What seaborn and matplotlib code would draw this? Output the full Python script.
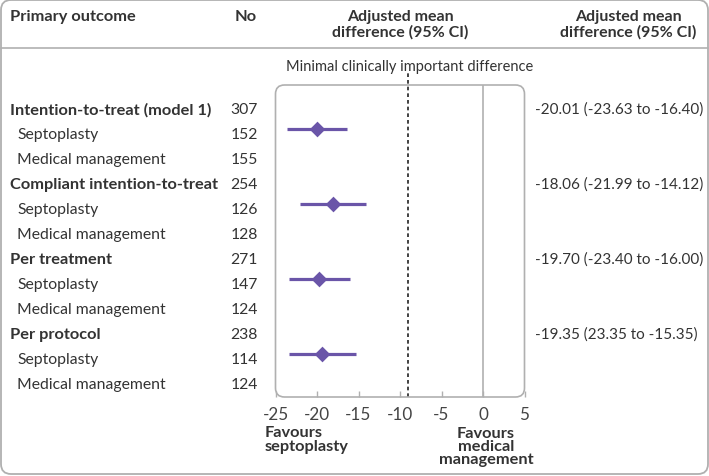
import matplotlib
matplotlib.use("Agg")
import matplotlib.pyplot as plt
import matplotlib.transforms as mtransforms
from matplotlib.patches import FancyBboxPatch
import seaborn as sns
import pandas as pd

# ---- data ----
row_labels = ["Intention-to-treat (model 1)", "Septoplasty", "Medical management",
              "Compliant intention-to-treat", "Septoplasty", "Medical management",
              "Per treatment", "Septoplasty", "Medical management",
              "Per protocol", "Septoplasty", "Medical management"]
row_is_header = [True, False, False, True, False, False, True, False, False, True, False, False]
row_n = ["307", "152", "155", "254", "126", "128", "271", "147", "124", "238", "114", "124"]

analyses = ["Intention-to-treat (model 1)", "Compliant intention-to-treat", "Per treatment", "Per protocol"]
analysis_rows = [0, 3, 6, 9]
estimates = [-20.01, -18.06, -19.70, -19.35]
ci_low = [-23.63, -21.99, -23.40, -23.35]
ci_high = [-16.40, -14.12, -16.00, -15.35]
ci_text = ["-20.01 (-23.63 to -16.40)", "-18.06 (-21.99 to -14.12)",
           "-19.70 (-23.40 to -16.00)", "-19.35 (23.35 to -15.35)"]
mcid = -9
xticks = [-25, -20, -15, -10, -5, 0, 5]

# ---- style ----
W, H = 709, 477
PURPLE = "#6a55a8"
TXT = "#333333"
GREY = "#b0b0b0"
FONT = ["Lato", "DejaVu Sans"]

sns.set_theme(style="white")
plt.rcParams["font.family"] = FONT

fig = plt.figure(figsize=(W / 100, H / 100), dpi=100)

def fx(px):
    return px / W

def fy(py):
    return 1 - py / H

ax_l, ax_r, ax_t, ax_b = 275.5, 524.5, 86, 398
ax = fig.add_axes([fx(ax_l), fy(ax_b), fx(ax_r - ax_l), (ax_b - ax_t) / H])

df = pd.DataFrame({"analysis": analyses, "row": analysis_rows, "est": estimates,
                   "lo": ci_low, "hi": ci_high})
df["ypos"] = df["row"] + 1 - 0.2

ax.hlines(df["ypos"], df["lo"], df["hi"], color=PURPLE, lw=2.3, zorder=3)
sns.scatterplot(data=df, x="est", y="ypos", marker="D", s=64, color=PURPLE,
                edgecolor=PURPLE, linewidth=0, ax=ax, zorder=4, legend=False)

ax.set_xlim(-25, 5)
ax.set_ylim(11.52, -0.96)
ax.set_xlabel("")
ax.set_ylabel("")
ax.set_yticks([])
ax.set_xticks(xticks)
ax.set_xticklabels([str(t) for t in xticks])
ax.tick_params(axis="x", direction="in", length=4, width=1, color=GREY, pad=6.5,
               labelsize=12.3, labelcolor="#444444", bottom=True)
for s in ax.spines.values():
    s.set_visible(False)
ax.patch.set_alpha(0)

# zero line and MCID line
ax.axvline(0, color=GREY, lw=1.2, zorder=2)
ax.plot([mcid, mcid], [0, 1.038], transform=ax.get_xaxis_transform(), color="#222222",
        lw=1.2, ls=(0, (2.2, 1.8)), clip_on=False, zorder=2)

# rounded axes frame
frame = FancyBboxPatch((fx(ax_l), fy(ax_b)), fx(ax_r - ax_l), (ax_b - ax_t) / H,
                       boxstyle="round,pad=0,rounding_size=%f" % (9 / W),
                       mutation_aspect=W / H, transform=fig.transFigure,
                       fill=False, edgecolor=GREY, lw=1.2, zorder=1)
fig.patches.append(frame)

# outer frame
outer = FancyBboxPatch((fx(1), fy(475)), fx(707), 474 / H,
                       boxstyle="round,pad=0,rounding_size=%f" % (10 / W),
                       mutation_aspect=W / H, transform=fig.transFigure,
                       fill=False, edgecolor=GREY, lw=1.3)
fig.patches.append(outer)
fig.add_artist(plt.Line2D([fx(1), fx(708)], [fy(49), fy(49)], color=GREY, lw=1.2,
                          transform=fig.transFigure))

# header
fs = 11.3
fsb = 11.8
fsh = 11.5
fig.text(fx(10), fy(17), "Primary outcome", ha="left", va="center", fontsize=fsb,
         weight="bold", color=TXT)
fig.text(fx(257), fy(17), "No", ha="right", va="center", fontsize=fsb,
         weight="bold", color=TXT)
fig.text(fx(400), fy(25), "Adjusted mean\ndifference (95% CI)", ha="center", va="center",
         fontsize=fsh, weight="bold", color=TXT, linespacing=1.12)
fig.text(fx(628), fy(25), "Adjusted mean\ndifference (95% CI)", ha="center", va="center",
         fontsize=fsh, weight="bold", color=TXT, linespacing=1.12)
fig.text(fx(410), fy(67), "Minimal clinically important difference", ha="center",
         va="center", fontsize=10.5, color=TXT)

# row texts
tr = mtransforms.blended_transform_factory(fig.transFigure, ax.transData)
for i, (lab, hdr, n) in enumerate(zip(row_labels, row_is_header, row_n)):
    fig.text(fx(10) if hdr else fx(17), i, lab, transform=tr, ha="left", va="center",
             fontsize=fsb if hdr else fs, weight="bold" if hdr else "normal", color=TXT)
    fig.text(fx(258), i, n, transform=tr, ha="right", va="center", fontsize=fs, color=TXT)
for r, t in zip(analysis_rows, ci_text):
    fig.text(fx(535), r, t, transform=tr, ha="left", va="center", fontsize=11.0, color=TXT)

# favours labels
fig.text(fx(265), fy(440), "Favours\nseptoplasty", ha="left", va="center", fontsize=fsb,
         weight="bold", color=TXT, linespacing=0.95)
fig.text(fx(486), fy(447), "Favours\nmedical\nmanagement", ha="center", va="center",
         fontsize=fsb, weight="bold", color=TXT, linespacing=0.95)

fig.savefig("out.png", dpi=100)
